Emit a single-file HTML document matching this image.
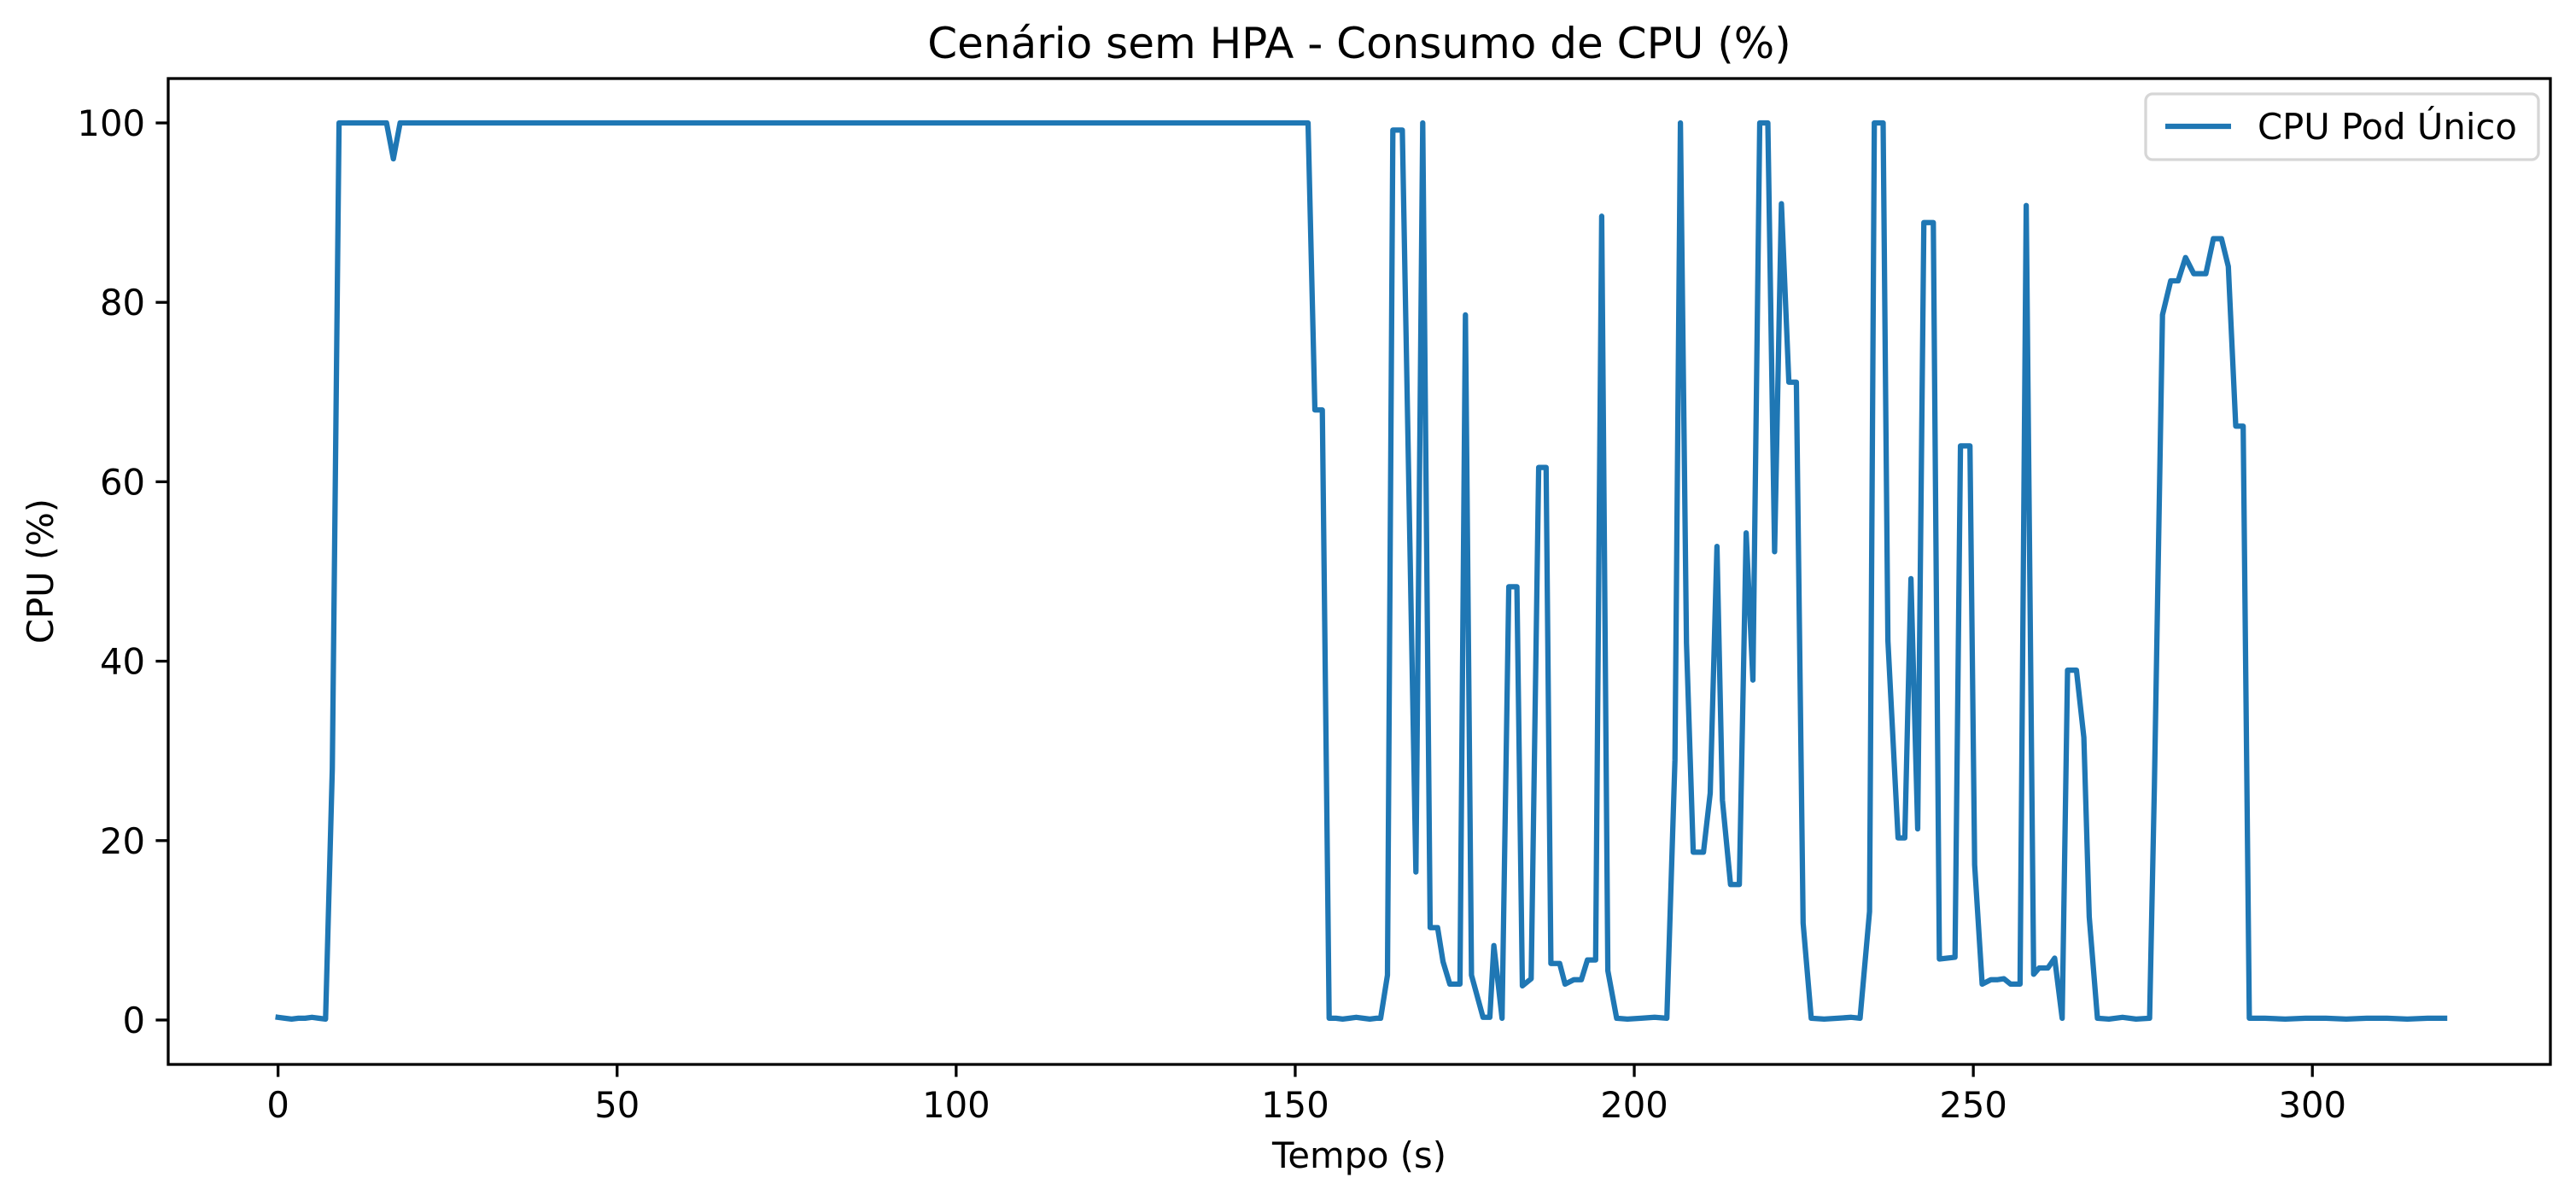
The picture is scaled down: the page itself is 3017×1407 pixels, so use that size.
<!DOCTYPE html>
<html><head><meta charset="utf-8"><style>
html,body{margin:0;padding:0;background:#fff;}
svg{display:block;font-family:"DejaVu Sans","Liberation Sans",sans-serif;}
</style></head><body>
<svg id="chart" width="3017" height="1407" viewBox="0 0 3017 1407" xmlns="http://www.w3.org/2000/svg">
<rect width="3017" height="1407" fill="#fff"/>
<text x="1592" y="68" font-size="50" text-anchor="middle" fill="#000">Cenário sem HPA - Consumo de CPU (%)</text>
<g id="xticks"></g>
<g id="yticks"></g>
<polyline id="series" fill="none" stroke="#1f77b4" stroke-width="6.25" stroke-linejoin="round" stroke-linecap="square"/>
<rect x="197" y="92" width="2790" height="1155" fill="none" stroke="#000" stroke-width="3.3"/>
<text x="1592" y="1368" font-size="41.7" text-anchor="middle">Tempo (s)</text>
<text transform="translate(62,669) rotate(-90)" font-size="41.7" text-anchor="middle">CPU (%)</text>
<g>
<rect x="2513" y="110" width="460" height="77" rx="8" fill="#fff" fill-opacity="0.8" stroke="#d6d6d6" stroke-width="3.3"/>
<line x1="2536" y1="148" x2="2613" y2="148" stroke="#1f77b4" stroke-width="6.25"/>
<text x="2644" y="163" font-size="41.7">CPU Pod Único</text>
</g>
</svg>
<script>
const xTickValues = [0, 50, 100, 150, 200, 250, 300];
const yTickValues = [0, 20, 40, 60, 80, 100];
const times = [0,1,2,3,4,5,6,7,8,9,16,17,18,151.9,152.9,154.0,155.0,156,157,158,159,160,161,162,162.6,163.6,164.4,165.8,167.8,168.8,169.9,171.0,171.8,172.8,174.3,175.1,176.0,177.7,178.7,179.3,180.5,181.5,182.7,183.5,184.8,185.9,187.0,187.7,189.0,189.8,191.1,192.2,193.1,194.3,195.2,196.1,197.4,199,201,203,204.8,206.0,206.8,207.7,208.7,210.2,211.2,212.2,213.0,214.2,215.5,216.5,217.5,218.5,219.7,220.7,221.7,222.8,223.9,224.9,226.1,228,230,232,233.3,234.7,235.4,236.7,237.4,238.9,239.9,240.8,241.8,242.7,244.1,245.0,247.3,248.1,249.5,250.2,251.3,252.6,253.6,254.5,255.5,256.9,257.8,258.9,259.7,261.0,262.0,263.1,263.9,265.2,266.3,267.1,268.3,270,272,274,276.0,276.7,277.9,279.1,280.2,281.3,282.5,284.3,285.4,286.6,287.6,288.7,289.8,290.7,293,296,299,302,305,308,311,314,317,319.5];
const cpuValues = [0.3,0.2,0.1,0.2,0.2,0.3,0.2,0.1,28,100,100,96,100,100,68,68,0.2,0.2,0.1,0.2,0.3,0.2,0.1,0.2,0.2,5,99.2,99.2,16.5,100,10.3,10.3,6.5,4,4,78.6,5,0.3,0.3,8.3,0.2,48.3,48.3,3.8,4.6,61.6,61.6,6.3,6.3,4,4.5,4.5,6.7,6.7,89.6,5.5,0.2,0.1,0.2,0.3,0.2,29,100,42,18.7,18.7,25.3,52.8,24.5,15.1,15.1,54.3,37.9,100,100,52.2,91,71.1,71.1,10.8,0.2,0.1,0.2,0.3,0.2,12.1,100,100,42.3,20.3,20.3,49.2,21.3,88.9,88.9,6.8,7,64,64,17.3,4,4.5,4.5,4.6,4,4,90.8,5.1,5.8,5.8,6.9,0.2,39,39,31.5,11.5,0.2,0.1,0.3,0.1,0.2,26,78.6,82.4,82.4,85,83.2,83.2,87.1,87.1,84,66.2,66.2,0.2,0.2,0.1,0.2,0.2,0.1,0.2,0.2,0.1,0.2,0.2];

const L=197,R=2987,T=92,B=1247;
const xMin=-16.2,xMax=335.1,yMin=-4.95,yMax=104.95;
function sx(v){return L+(v-xMin)/(xMax-xMin)*(R-L);}
function sy(v){return B-(v-yMin)/(yMax-yMin)*(B-T);}
const NS="http://www.w3.org/2000/svg";
const xg=document.getElementById('xticks');
xTickValues.forEach(v=>{
  const x=sx(v);
  const ln=document.createElementNS(NS,'line');
  ln.setAttribute('x1',x);ln.setAttribute('x2',x);ln.setAttribute('y1',B);ln.setAttribute('y2',B+14.6);
  ln.setAttribute('stroke','#000');ln.setAttribute('stroke-width','3.3');
  
  
  xg.appendChild(ln);
  const t=document.createElementNS(NS,'text');
  t.setAttribute('x',x);t.setAttribute('y',B+62);t.setAttribute('font-size','41.7');t.setAttribute('text-anchor','middle');
  t.textContent=v;
  
  
  xg.appendChild(t);
});
const yg=document.getElementById('yticks');
yTickValues.forEach(v=>{
  const y=sy(v);
  const ln=document.createElementNS(NS,'line');
  ln.setAttribute('x1',L-14.6);ln.setAttribute('x2',L);ln.setAttribute('y1',y);ln.setAttribute('y2',y);
  ln.setAttribute('stroke','#000');ln.setAttribute('stroke-width','3.3');
  
  
  yg.appendChild(ln);
  const t=document.createElementNS(NS,'text');
  t.setAttribute('x',L-27);t.setAttribute('y',y+15);t.setAttribute('font-size','41.7');t.setAttribute('text-anchor','end');
  t.textContent=v;
  
  
  yg.appendChild(t);
});
document.getElementById('series').setAttribute('points',times.map((t,i)=>sx(t).toFixed(1)+','+sy(cpuValues[i]).toFixed(1)).join(' '));
</script>
</body></html>
